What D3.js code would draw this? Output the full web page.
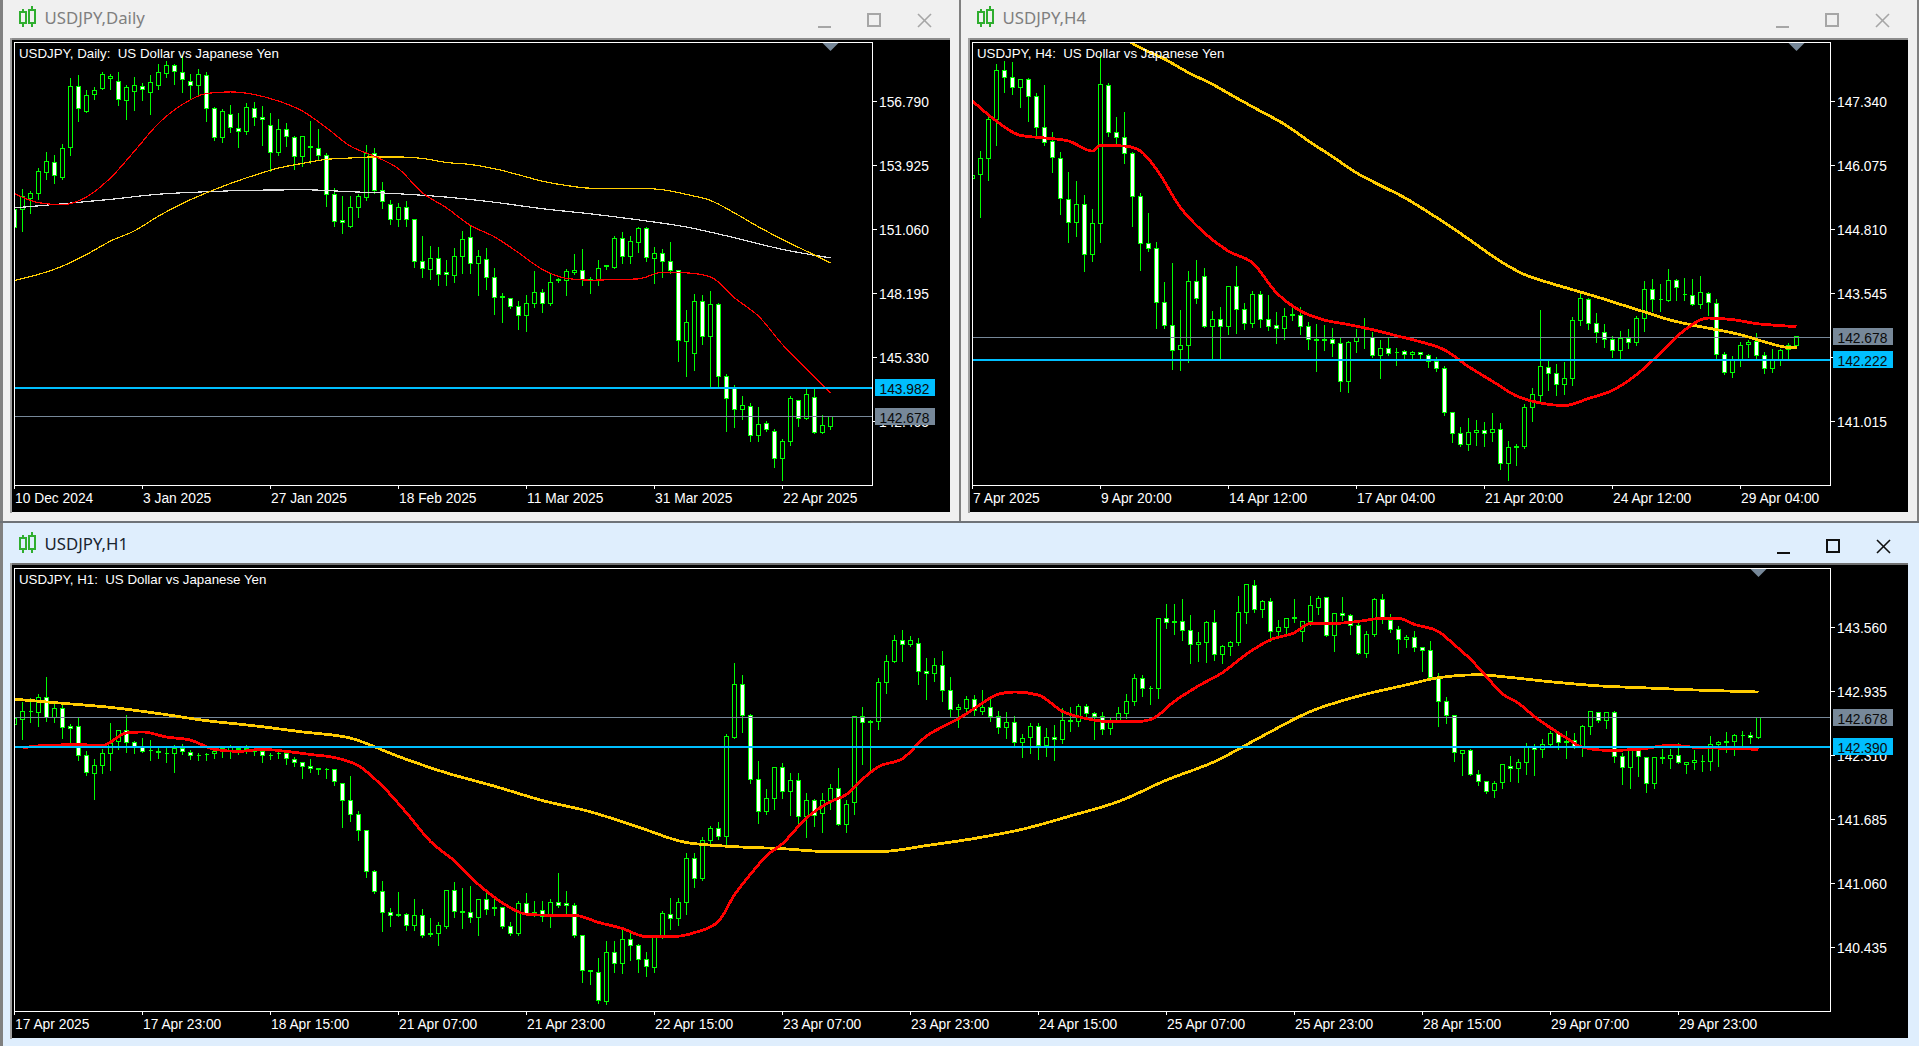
<!DOCTYPE html>
<html><head><meta charset="utf-8">
<script src="https://cdn.jsdelivr.net/npm/d3@7"></script>
<style>html,body{margin:0;padding:0;background:#f0f0f0;overflow:hidden}svg{display:block}text{white-space:pre}</style>
</head><body><svg id="c" width="1919" height="1046"></svg>
<script>
// candles: [open, high, low, close]
const dailyOHLC=[[151.96,152.08,151.06,151.17],[151.94,152.88,151.03,152.52],[152.43,152.79,151.84,152.66],[152.66,153.82,152.46,153.64],[153.63,154.54,153.36,154.12],[154.08,154.40,153.18,153.48],[153.37,154.90,153.36,154.67],[154.72,157.85,154.42,157.45],[157.45,158.00,155.94,156.46],[156.33,157.33,156.33,157.07],[157.12,157.45,156.91,157.30],[157.39,158.12,157.36,157.98],[157.81,158.04,157.37,157.89],[157.70,158.12,156.66,156.87],[156.85,157.57,156.05,157.40],[157.22,157.89,156.43,157.49],[157.45,157.63,156.88,157.31],[157.18,158.00,156.25,157.63],[157.52,158.48,157.39,158.07],[158.03,158.63,157.91,158.39],[158.39,158.48,157.60,158.12],[158.07,158.90,157.24,157.76],[157.70,158.04,156.92,157.49],[157.49,158.25,157.04,157.98],[157.94,158.13,155.96,156.46],[156.46,156.55,155.09,155.17],[155.17,156.46,155.00,156.33],[156.19,156.66,155.46,155.61],[155.57,156.30,154.78,155.46],[155.46,156.73,155.36,156.51],[156.46,156.78,155.76,156.06],[156.06,156.60,154.87,155.97],[155.70,156.30,153.69,154.52],[154.52,156.03,154.42,155.52],[155.52,155.85,154.82,155.21],[155.17,155.27,153.79,154.31],[154.31,155.27,153.94,155.21],[154.78,155.92,154.05,154.72],[154.67,155.58,154.20,154.36],[154.36,154.49,152.15,152.61],[152.61,152.93,151.26,151.41],[151.45,152.58,150.94,151.36],[151.21,152.57,151.21,152.03],[152.03,152.66,151.64,152.52],[152.49,154.85,152.40,154.45],[154.45,154.72,152.70,152.82],[152.82,153.20,152.05,152.30],[152.20,152.40,151.33,151.51],[151.49,152.25,151.26,152.06],[152.06,152.34,151.26,151.49],[151.49,151.51,149.42,149.64],[149.64,150.79,148.94,149.30],[149.27,150.34,148.85,149.75],[149.75,150.31,148.58,149.03],[149.12,149.72,148.61,149.06],[149.00,150.24,148.75,149.84],[149.84,151.02,149.12,150.61],[150.69,151.29,149.12,149.54],[149.54,150.17,148.15,149.84],[149.72,150.24,148.41,148.90],[148.90,149.35,147.30,148.00],[148.06,148.23,146.96,148.01],[147.96,148.00,147.55,147.60],[147.60,147.87,146.63,147.20],[147.20,148.15,146.55,147.73],[147.73,149.23,147.63,148.23],[148.23,148.41,147.41,147.73],[147.73,149.12,147.70,148.67],[148.80,148.90,148.73,148.79],[148.78,149.30,148.15,149.17],[149.15,149.99,149.09,149.24],[149.24,150.21,148.60,148.82],[148.82,148.94,148.23,148.79],[148.79,149.72,148.60,149.30],[149.42,149.51,149.33,149.43],[149.38,150.79,149.36,150.67],[150.67,150.96,149.57,149.87],[149.87,150.79,149.60,150.51],[150.49,151.21,150.09,151.09],[151.09,151.21,149.67,149.79],[149.75,150.28,148.70,149.97],[149.97,150.20,148.97,149.62],[149.62,150.51,149.12,149.24],[149.24,149.27,145.20,146.09],[146.06,147.48,144.54,146.88],[145.50,148.20,144.81,147.82],[147.82,148.15,145.96,146.26],[146.26,148.33,144.05,147.69],[147.69,147.78,144.05,144.47],[144.47,144.62,142.06,143.48],[143.93,144.11,142.26,142.99],[142.99,143.63,142.62,143.17],[143.12,143.30,141.62,141.83],[141.83,143.14,141.62,142.35],[142.39,142.51,142.05,142.09],[142.00,142.14,140.47,140.80],[140.80,141.69,139.87,141.56],[141.56,143.63,141.44,143.48],[143.42,143.42,142.30,142.59],[142.59,143.99,142.58,143.66],[143.53,143.93,141.96,141.99],[141.99,142.77,141.96,142.27],[142.23,142.74,142.17,142.70]];
const dailyRed=[[0,152.67],[3,152.26],[6,152.17],[9,152.52],[12,153.37],[15,154.57],[18,155.81],[21,156.66],[24,157.15],[27,157.22],[30,157.10],[33,156.81],[36,156.36],[39,155.61],[42,154.79],[45,154.34],[48,153.78],[51,152.70],[54,152.03],[57,151.24],[60,150.73],[63,150.02],[66,149.27],[69,148.87],[72,148.79],[75,148.82],[78,148.85],[81,149.15],[84,149.12],[87,148.94],[90,148.00],[93,147.18],[96,145.91],[99,144.80],[102,143.75]];
const dailyGold=[[0,148.78],[3,149.05],[6,149.42],[9,149.94],[12,150.54],[15,151.00],[18,151.66],[21,152.23],[24,152.70],[27,153.12],[30,153.49],[33,153.81],[36,154.02],[39,154.20],[42,154.26],[45,154.31],[48,154.31],[51,154.24],[54,154.06],[57,153.97],[60,153.78],[63,153.51],[66,153.22],[69,153.03],[72,152.91],[75,152.91],[78,152.91],[81,152.84],[84,152.63],[87,152.36],[90,151.80],[93,151.18],[96,150.61],[99,150.09],[102,149.56]];
const dailySilver=[[0,152.03],[6,152.21],[12,152.41],[18,152.64],[24,152.75],[30,152.82],[36,152.84],[42,152.75],[48,152.66],[54,152.51],[60,152.28],[66,151.99],[72,151.76],[78,151.49],[84,151.17],[90,150.69],[96,150.17],[102,149.79]];
const dailyXLabels=["10 Dec 2024","3 Jan 2025","27 Jan 2025","18 Feb 2025","11 Mar 2025","31 Mar 2025","22 Apr 2025"];
const dailyYTicks=[156.790,153.925,151.060,148.195,145.330,142.465];

const h4OHLC=[[145.81,145.88,145.80,145.88],[145.89,146.37,145.07,146.21],[146.21,147.05,145.80,146.98],[146.98,148.10,146.49,147.95],[147.95,148.15,147.53,147.81],[147.81,148.13,147.50,147.61],[147.61,147.78,147.25,147.77],[147.77,147.81,146.97,147.43],[147.43,147.51,146.64,146.82],[146.82,147.68,146.49,146.52],[146.54,146.75,145.96,146.23],[146.21,146.35,145.13,145.42],[145.40,145.95,144.58,144.94],[144.94,145.77,144.70,145.30],[145.30,145.50,143.99,144.31],[144.31,145.22,144.19,144.92],[144.92,148.27,144.58,147.67],[147.65,147.71,146.67,146.72],[146.72,147.04,146.49,146.62],[146.62,147.14,146.14,146.31],[146.31,146.35,144.88,145.46],[145.46,145.54,144.01,144.53],[144.53,145.14,144.40,144.43],[144.43,144.57,142.88,143.36],[143.36,143.78,142.88,142.92],[142.92,144.15,142.06,142.41],[142.43,143.23,142.04,142.52],[142.52,143.99,142.21,143.78],[143.78,144.21,143.37,143.44],[143.89,144.05,142.90,142.90],[142.90,143.20,142.26,143.04],[143.04,143.28,142.26,142.90],[142.90,143.70,142.76,143.68],[143.68,144.10,142.78,143.22],[143.22,143.36,142.86,142.96],[142.96,143.60,142.90,143.52],[143.52,143.60,142.90,143.04],[143.04,143.52,142.83,142.90],[142.91,143.18,142.58,142.86],[142.86,143.26,142.66,143.10],[143.11,143.28,143.04,143.13],[143.12,143.28,142.76,142.89],[142.89,143.00,142.46,142.63],[142.63,142.95,142.03,142.62],[142.62,142.93,142.43,142.64],[142.64,142.87,142.31,142.55],[142.55,142.68,141.63,141.80],[141.80,142.62,141.61,142.58],[142.59,142.86,142.39,142.67],[142.68,143.08,142.48,142.67],[142.68,142.80,142.29,142.31],[142.31,142.64,141.89,142.46],[142.46,142.70,142.34,142.36],[142.38,142.48,142.14,142.37],[142.39,142.44,142.28,142.34],[142.33,142.42,142.28,142.37],[142.37,142.40,142.26,142.34],[142.32,142.35,142.11,142.20],[142.20,142.29,142.02,142.07],[142.06,142.12,141.15,141.19],[141.19,141.20,140.61,140.77],[140.77,140.91,140.55,140.57],[140.57,141.09,140.46,140.79],[140.79,141.05,140.56,140.83],[140.83,141.01,140.54,140.77],[140.79,141.19,140.64,140.85],[140.85,140.99,140.09,140.19],[140.19,140.63,139.87,140.51],[140.51,140.58,140.16,140.53],[140.52,141.37,140.51,141.30],[141.30,141.68,141.04,141.54],[141.52,143.23,141.42,142.10],[142.08,142.22,141.65,141.96],[141.96,142.16,141.54,141.74],[141.74,142.20,141.57,141.86],[141.86,143.09,141.75,143.02],[143.02,143.54,142.93,143.44],[143.42,143.46,142.85,142.95],[142.95,143.16,142.60,142.77],[142.77,142.96,142.50,142.63],[142.63,142.71,142.29,142.41],[142.41,142.81,142.26,142.65],[142.65,142.85,142.48,142.57],[142.58,143.11,142.54,143.06],[143.06,143.80,142.82,143.62],[143.62,143.85,143.20,143.42],[143.43,143.74,143.21,143.42],[143.41,144.04,143.41,143.81],[143.81,143.85,143.43,143.66],[143.53,143.87,143.43,143.52],[143.50,143.85,143.32,143.32],[143.32,143.90,143.27,143.56],[143.54,143.58,143.13,143.36],[143.34,143.44,142.26,142.34],[142.33,142.39,141.96,141.98],[141.98,142.32,141.91,142.22],[142.24,142.59,142.12,142.52],[142.53,142.64,142.29,142.58],[142.60,142.77,142.27,142.31],[142.31,142.39,141.98,142.06],[142.06,142.45,142.01,142.24],[142.25,142.45,142.14,142.42],[142.44,142.57,142.25,142.52],[142.52,142.69,142.49,142.69]];
const h4Red=[[0,147.35],[3,146.95],[6,146.67],[9,146.62],[12,146.56],[15,146.36],[16,146.47],[19,146.46],[21,146.36],[23,146.00],[26,145.24],[29,144.74],[32,144.38],[35,144.15],[38,143.56],[41,143.20],[44,143.02],[47,142.93],[50,142.83],[53,142.71],[56,142.59],[59,142.43],[62,142.10],[65,141.81],[68,141.52],[71,141.38],[74,141.33],[77,141.47],[80,141.63],[83,141.94],[86,142.37],[89,142.82],[92,143.06],[95,143.03],[98,142.95],[101,142.91],[103,142.89]];
const h4Gold=[[19,148.58],[21,148.40],[24,148.18],[27,147.91],[30,147.68],[33,147.41],[36,147.15],[39,146.89],[42,146.56],[45,146.25],[48,145.93],[51,145.68],[54,145.44],[57,145.15],[60,144.84],[63,144.51],[66,144.18],[69,143.92],[72,143.76],[75,143.62],[78,143.48],[81,143.33],[84,143.18],[87,143.03],[90,142.92],[93,142.83],[96,142.73],[99,142.59],[102,142.48],[103,142.48]];
const h4XLabels=["7 Apr 2025","9 Apr 20:00","14 Apr 12:00","17 Apr 04:00","21 Apr 20:00","24 Apr 12:00","29 Apr 04:00"];
const h4YTicks=[147.340,146.075,144.810,143.545,142.280,141.015];

const h1OHLC=[[142.61,142.70,142.55,142.67],[142.66,142.84,142.48,142.74],[142.74,142.88,142.64,142.74],[142.73,142.92,142.60,142.88],[142.88,143.08,142.65,142.68],[142.68,142.82,142.64,142.77],[142.77,142.81,142.49,142.58],[142.59,142.62,142.44,142.57],[142.59,142.69,142.27,142.31],[142.31,142.36,142.12,142.14],[142.13,142.28,141.89,142.21],[142.21,142.38,142.14,142.33],[142.33,142.63,142.17,142.43],[142.45,142.56,142.38,142.55],[142.55,142.71,142.35,142.44],[142.44,142.46,142.34,142.40],[142.39,142.49,142.35,142.35],[142.36,142.47,142.27,142.36],[142.35,142.39,142.29,142.34],[142.33,142.40,142.25,142.33],[142.33,142.42,142.15,142.38],[142.38,142.43,142.33,142.35],[142.34,142.37,142.28,142.31],[142.31,142.34,142.27,142.31],[142.32,142.34,142.27,142.32],[142.33,142.38,142.29,142.35],[142.36,142.40,142.30,142.38],[142.35,142.42,142.29,142.39],[142.38,142.41,142.33,142.37],[142.38,142.42,142.34,142.37],[142.36,142.39,142.32,142.35],[142.35,142.37,142.25,142.31],[142.31,142.34,142.28,142.31],[142.33,142.37,142.29,142.33],[142.33,142.35,142.23,142.28],[142.27,142.30,142.21,142.24],[142.24,142.25,142.10,142.20],[142.20,142.28,142.15,142.18],[142.18,142.18,142.13,142.17],[142.17,142.19,142.10,142.17],[142.17,142.18,142.03,142.06],[142.04,142.05,141.62,141.87],[141.87,142.11,141.68,141.73],[141.73,141.77,141.49,141.58],[141.58,141.58,141.13,141.18],[141.18,141.20,140.97,140.98],[140.98,141.09,140.60,140.78],[140.78,140.83,140.65,140.75],[140.76,140.98,140.75,140.75],[140.76,140.78,140.61,140.65],[140.65,140.91,140.61,140.75],[140.75,140.82,140.54,140.55],[140.56,140.73,140.55,140.57],[140.57,140.69,140.46,140.65],[140.64,140.99,140.63,140.99],[140.99,141.08,140.74,140.79],[140.79,141.02,140.63,140.78],[140.78,141.04,140.69,140.73],[140.73,140.91,140.56,140.90],[140.90,140.98,140.77,140.81],[140.83,140.92,140.76,140.82],[140.83,140.84,140.63,140.64],[140.64,140.69,140.56,140.57],[140.57,140.89,140.56,140.86],[140.86,140.97,140.76,140.77],[140.78,140.89,140.75,140.77],[140.80,140.89,140.70,140.74],[140.74,140.91,140.64,140.87],[140.87,141.17,140.84,140.85],[140.86,140.99,140.77,140.85],[140.85,140.87,140.54,140.55],[140.55,140.55,140.10,140.21],[140.21,140.21,140.08,140.20],[140.19,140.34,139.90,139.92],[139.91,140.50,139.89,140.39],[140.39,140.50,140.20,140.28],[140.28,140.61,140.19,140.51],[140.51,140.58,140.32,140.45],[140.45,140.47,140.20,140.32],[140.32,140.40,140.16,140.25],[140.24,140.56,140.20,140.53],[140.54,140.80,140.53,140.77],[140.76,140.92,140.62,140.72],[140.72,140.92,140.66,140.87],[140.87,141.36,140.77,141.30],[141.30,141.36,141.03,141.11],[141.11,141.52,141.10,141.48],[141.48,141.63,141.43,141.60],[141.60,141.67,141.50,141.52],[141.52,142.52,141.43,142.50],[142.49,143.22,142.49,143.00],[143.00,143.10,142.54,142.70],[142.70,142.72,142.05,142.08],[142.08,142.26,141.66,141.76],[141.76,141.99,141.74,141.89],[141.89,142.19,141.79,142.19],[142.19,142.24,141.90,141.96],[141.96,142.14,141.73,142.07],[142.07,142.14,141.62,141.71],[141.71,141.95,141.52,141.87],[141.87,141.89,141.63,141.72],[141.74,141.95,141.57,141.87],[141.87,142.04,141.79,141.99],[141.99,142.19,141.64,141.64],[141.64,141.88,141.57,141.83],[141.85,142.69,141.74,142.69],[142.69,142.79,142.23,142.63],[142.63,142.66,142.17,142.64],[142.64,143.07,142.57,143.02],[143.02,143.30,142.93,143.23],[143.23,143.49,143.23,143.43],[143.43,143.54,143.24,143.39],[143.39,143.48,143.38,143.43],[143.40,143.46,143.01,143.13],[143.13,143.27,142.87,143.11],[143.11,143.27,143.04,143.19],[143.19,143.34,142.85,142.94],[142.94,143.08,142.69,142.76],[142.76,142.82,142.59,142.78],[142.77,142.90,142.73,142.86],[142.86,142.91,142.71,142.75],[142.74,142.95,142.72,142.78],[142.78,142.88,142.65,142.69],[142.69,142.75,142.53,142.58],[142.58,142.74,142.49,142.63],[142.63,142.70,142.42,142.44],[142.44,142.52,142.30,142.48],[142.49,142.63,142.34,142.59],[142.59,142.63,142.28,142.41],[142.41,142.58,142.31,142.49],[142.49,142.61,142.27,142.47],[142.47,142.78,142.44,142.65],[142.65,142.79,142.55,142.64],[142.64,142.82,142.60,142.79],[142.79,142.82,142.68,142.72],[142.72,142.74,142.48,142.69],[142.69,142.74,142.52,142.56],[142.57,142.68,142.52,142.64],[142.65,142.79,142.64,142.72],[142.72,142.92,142.68,142.84],[142.84,143.11,142.81,143.06],[143.06,143.10,142.90,142.96],[142.96,142.99,142.82,142.96],[142.96,143.66,142.88,143.65],[143.65,143.79,143.56,143.61],[143.62,143.79,143.50,143.61],[143.62,143.84,143.44,143.53],[143.53,143.69,143.22,143.39],[143.39,143.52,143.24,143.41],[143.41,143.63,143.23,143.61],[143.61,143.74,143.25,143.30],[143.30,143.39,143.22,143.37],[143.37,143.43,143.30,143.41],[143.41,143.87,143.39,143.71],[143.71,143.99,143.61,143.98],[143.97,144.03,143.72,143.74],[143.74,143.83,143.67,143.81],[143.81,143.85,143.43,143.52],[143.52,143.64,143.46,143.56],[143.56,143.66,143.50,143.65],[143.66,143.84,143.62,143.65],[143.52,143.62,143.43,143.62],[143.62,143.87,143.59,143.77],[143.76,143.87,143.70,143.84],[143.85,143.85,143.48,143.48],[143.48,143.71,143.34,143.70],[143.70,143.86,143.64,143.68],[143.68,143.70,143.50,143.58],[143.58,143.64,143.31,143.31],[143.31,143.53,143.28,143.49],[143.49,143.85,143.48,143.83],[143.83,143.89,143.61,143.65],[143.63,143.70,143.52,143.54],[143.54,143.58,143.32,143.44],[143.44,143.49,143.37,143.46],[143.46,143.53,143.34,143.36],[143.36,143.37,143.14,143.34],[143.34,143.43,143.06,143.07],[143.06,143.12,142.60,142.84],[142.84,142.89,142.63,142.70],[142.70,142.71,142.26,142.34],[142.33,142.37,142.12,142.36],[142.36,142.38,142.12,142.12],[142.12,142.17,142.03,142.06],[142.06,142.06,141.95,141.96],[141.97,142.07,141.91,142.04],[142.05,142.22,142.00,142.22],[142.20,142.31,142.07,142.18],[142.18,142.28,142.06,142.24],[142.24,142.44,142.13,142.40],[142.40,142.43,142.12,142.37],[142.37,142.48,142.30,142.42],[142.42,142.55,142.41,142.52],[142.52,142.55,142.38,142.44],[142.45,142.55,142.29,142.44],[142.46,142.53,142.39,142.39],[142.40,142.61,142.31,142.59],[142.59,142.75,142.52,142.74],[142.73,142.74,142.64,142.65],[142.65,142.74,142.58,142.73],[142.73,142.75,142.25,142.30],[142.30,142.34,142.04,142.19],[142.19,142.38,142.00,142.36],[142.36,142.38,142.11,142.30],[142.29,142.29,141.96,142.04],[142.04,142.30,142.00,142.29],[142.29,142.38,142.24,142.28],[142.28,142.38,142.19,142.31],[142.31,142.44,142.24,142.24],[142.22,142.25,142.14,142.24],[142.24,142.37,142.18,142.26],[142.25,142.32,142.16,142.25],[142.25,142.51,142.17,142.42],[142.42,142.46,142.21,142.44],[142.44,142.54,142.35,142.45],[142.45,142.52,142.32,142.51],[142.51,142.55,142.40,142.51],[142.51,142.54,142.44,142.49],[142.49,142.67,142.49,142.678]];
const h1Red=[[1,142.385],[4,142.41],[8,142.415],[11,142.41],[14,142.53],[16,142.54],[19,142.49],[22,142.46],[25,142.37],[28,142.35],[31,142.37],[34,142.35],[37,142.32],[40,142.29],[43,142.21],[46,142.01],[49,141.75],[52,141.47],[55,141.28],[58,141.05],[61,140.87],[64,140.76],[67,140.75],[70,140.75],[73,140.68],[76,140.62],[79,140.54],[82,140.54],[85,140.58],[88,140.69],[90,140.95],[92,141.15],[94,141.33],[96,141.45],[99,141.70],[102,141.86],[104,141.93],[106,142.08],[108,142.20],[111,142.28],[114,142.50],[116,142.59],[118,142.67],[120,142.77],[123,142.91],[125,142.93],[128,142.90],[131,142.74],[134,142.67],[137,142.64],[140,142.64],[142,142.66],[145,142.84],[148,142.99],[151,143.12],[154,143.30],[157,143.44],[160,143.51],[162,143.60],[165,143.60],[168,143.62],[171,143.65],[173,143.65],[175,143.59],[178,143.52],[180,143.39],[182,143.25],[184,143.08],[186,142.91],[188,142.82],[190,142.69],[192,142.58],[194,142.48],[196,142.39],[199,142.36],[203,142.37],[207,142.41],[210,142.39],[214,142.38],[218,142.37]];
const h1Gold=[[0,142.86],[6,142.82],[12,142.78],[18,142.72],[24,142.65],[30,142.60],[36,142.54],[42,142.48],[48,142.30],[54,142.14],[60,142.01],[66,141.87],[72,141.76],[78,141.61],[84,141.46],[90,141.42],[96,141.40],[102,141.37],[108,141.37],[114,141.43],[120,141.50],[126,141.59],[132,141.72],[138,141.86],[144,142.07],[150,142.25],[156,142.50],[162,142.74],[168,142.89],[174,143.00],[178,143.07],[183,143.10],[186,143.08],[192,143.03],[198,142.99],[204,142.97],[210,142.95],[218,142.93]];
const h1XLabels=["17 Apr 2025","17 Apr 23:00","18 Apr 15:00","21 Apr 07:00","21 Apr 23:00","22 Apr 15:00","23 Apr 07:00","23 Apr 23:00","24 Apr 15:00","25 Apr 07:00","25 Apr 23:00","28 Apr 15:00","29 Apr 07:00","29 Apr 23:00"];
const h1YTicks=[143.560,142.935,142.310,141.685,141.060,140.435];

const BID=142.678, dailyLevel=143.982, h4Level=142.222, h1Level=142.390;
const FONT='"Liberation Sans",Arial,sans-serif', GREEN="#00ff00", GOLD="#ffcc00";

const svg=d3.select("#c");
const snap=v=>Math.round(v-0.5)+0.5;
let clipId=0;

function rect(x,y,w,h,f){svg.append("rect").attr("x",x).attr("y",y).attr("width",w).attr("height",h).attr("fill",f).attr("shape-rendering","crispEdges");}

function windowFrame(o){
  const g=svg.append("g");
  const t=o.captionY;
  const ic=g.append("g").attr("transform",`translate(${o.iconX},${t})`).attr("fill","none").attr("stroke",o.iconColor).attr("stroke-width",2).attr("shape-rendering","crispEdges");
  ic.append("line").attr("x1",4).attr("x2",4).attr("y1",3).attr("y2",21);
  ic.append("rect").attr("x",1).attr("y",6).attr("width",6).attr("height",11).attr("fill",o.bg);
  ic.append("line").attr("x1",13).attr("x2",13).attr("y1",0).attr("y2",21);
  ic.append("rect").attr("x",10).attr("y",4).attr("width",6).attr("height",13).attr("fill",o.bg);
  g.append("text").attr("x",o.textX).attr("y",t+18).attr("font-family",'"Noto Sans",sans-serif').attr("font-size",16.8).attr("fill",o.textColor).text(o.caption);
  const c=g.append("g").attr("stroke",o.ctl).attr("fill","none").attr("stroke-width",1.6);
  const cy=t+8;
  c.append("line").attr("x1",o.ctlX).attr("x2",o.ctlX+13).attr("y1",cy+13).attr("y2",cy+13).attr("shape-rendering","crispEdges");
  c.append("rect").attr("x",o.ctlX+50).attr("y",cy).attr("width",12).attr("height",12).attr("shape-rendering","crispEdges");
  c.append("line").attr("x1",o.ctlX+100).attr("x2",o.ctlX+113).attr("y1",cy).attr("y2",cy+13);
  c.append("line").attr("x1",o.ctlX+113).attr("x2",o.ctlX+100).attr("y1",cy).attr("y2",cy+13);
}

function panel(o){
  const {left,right,top,bottom}=o, n=o.bars.length;
  const x=d3.scaleLinear().domain([0,n-1]).range([o.x0,o.x0+8*(n-1)]);
  const y=d3.scaleLinear().domain(o.yDomain).range(o.yRange);
  const id="clip"+(++clipId);
  svg.append("clipPath").attr("id",id).append("rect").attr("x",left).attr("y",top).attr("width",right-left).attr("height",bottom-top);
  const plot=svg.append("g").attr("clip-path",`url(#${id})`);
  const cg=plot.append("g");
  const cs=cg.selectAll("g").data(o.bars).join("g").attr("stroke",GREEN).attr("stroke-width",1).attr("shape-rendering","crispEdges");
  cs.append("line").attr("x1",(d,i)=>x(i)).attr("x2",(d,i)=>x(i)).attr("y1",d=>snap(y(d[1]))).attr("y2",d=>snap(y(d[2]))+1);
  cs.append("path").attr("d",(d,i)=>{const a=snap(y(Math.max(d[0],d[3]))),b=snap(y(Math.min(d[0],d[3])));const c=x(i);return `M${c-2},${a}H${c+2}V${b}H${c-2}Z`;})
    .attr("fill",d=>d[3]>=d[0]?"#000":"#fff");
  plot.append("line").attr("x1",left).attr("x2",right).attr("y1",snap(y(BID))).attr("y2",snap(y(BID))).attr("stroke","#778899").attr("shape-rendering","crispEdges");
  const line=d3.line().x(d=>x(d[0])).y(d=>y(d[1])).curve(d3.curveMonotoneX);
  o.mas.forEach(m=>plot.append("path").datum(m.data).attr("d",line).attr("fill","none").attr("stroke",m.color).attr("stroke-width",o.maWidth).attr("shape-rendering","crispEdges"));
  plot.append("line").attr("x1",left).attr("x2",right).attr("y1",y(o.level)).attr("y2",y(o.level)).attr("stroke","#00bfff").attr("stroke-width",2).attr("shape-rendering","crispEdges");

  svg.append("rect").attr("x",left-.5).attr("y",top-.5).attr("width",right-left+1).attr("height",bottom-top+1).attr("fill","none").attr("stroke","#fff").attr("shape-rendering","crispEdges");
  const ax=d3.axisBottom(x).tickValues(o.xLabels.map((_,i)=>i*16)).tickFormat((d,i)=>o.xLabels[i]).tickSize(4).tickSizeOuter(0).offset(0);
  const gx=svg.append("g").attr("transform",`translate(0,${bottom})`).call(ax);
  gx.select(".domain").remove();
  gx.selectAll("line").attr("stroke","#fff").attr("shape-rendering","crispEdges");
  gx.selectAll("text").attr("text-anchor","start").attr("dy",0).attr("x",0.5).attr("y",o.xLabelBase).attr("fill","#fff").attr("font-family",FONT).attr("font-size",o.fs);
  const ay=d3.axisRight(y).tickValues(o.yTicks).tickFormat(d3.format(".3f")).tickSize(4).tickPadding(2.5).offset(0);
  const gy=svg.append("g").attr("transform",`translate(${right+.5},0)`).call(ay);
  gy.select(".domain").remove();
  gy.selectAll("line").attr("stroke","#fff").attr("shape-rendering","crispEdges");
  gy.selectAll("text").attr("fill","#fff").attr("font-family",FONT).attr("font-size",o.fs).attr("dy","0.4em");
  [[BID,"#778899"],[o.level,"#00bfff"]].forEach(([v,c])=>{
    const yy=Math.round(y(v));
    rect(right+3,yy-9,60,17,c);
    svg.append("text").attr("x",right+7.5).attr("y",yy).attr("dy","0.4em").attr("fill","#0a0a0a").attr("font-family",FONT).attr("font-size",o.fs).text(d3.format(".3f")(v));
  });
  const lx=x(n-1);
  svg.append("path").attr("d",`M${lx-8},${top}H${lx+8}L${lx},${top+8}Z`).attr("fill","#778899");
  svg.append("text").attr("x",o.titleX).attr("y",top+15).attr("fill","#fff").attr("font-family",FONT).attr("font-size",o.tfs).text(o.title);
}

rect(0,0,1919,522,"#f0f0f0");
rect(0,0,3,522,"#808080");
rect(959,0,2,522,"#808080");
rect(1917,0,2,522,"#808080");
rect(0,521,1919,2,"#6f7378");
rect(0,523,1919,523,"#dfeefd");
rect(0,523,3,523,"#808080");
rect(10,38,940,2,"#8c8c8c");rect(10,38,2,475,"#a0a0a0");rect(12,40,938,472,"#000");
rect(968,38,940,2,"#8c8c8c");rect(968,38,2,475,"#a0a0a0");rect(970,40,938,472,"#000");
rect(10,563,1898,2,"#707070");rect(10,563,2,476,"#a0a0a0");rect(12,565,1896,473,"#000");

windowFrame({caption:"USDJPY,Daily",captionY:6,iconX:19,textX:44.5,textColor:"#7f7f7f",iconColor:"#2fae2f",bg:"#f0f0f0",ctl:"#a6a6a6",ctlX:818});
windowFrame({caption:"USDJPY,H4",captionY:6,iconX:977,textX:1002.5,textColor:"#7f7f7f",iconColor:"#2fae2f",bg:"#f0f0f0",ctl:"#a6a6a6",ctlX:1776});
windowFrame({caption:"USDJPY,H1",captionY:532,iconX:19,textX:44.5,textColor:"#1a2530",iconColor:"#2fae2f",bg:"#dfeefd",ctl:"#111",ctlX:1777});

panel({bars:dailyOHLC,x0:14.5,left:15,right:872,top:43,bottom:485,yDomain:[156.79,142.465],yRange:[101.5,421.5],yTicks:dailyYTicks,xLabels:dailyXLabels,level:dailyLevel,maWidth:1.2,fs:13.8,tfs:13.3,xLabelBase:18,titleX:19,title:"USDJPY, Daily:  US Dollar vs Japanese Yen",
  mas:[{data:dailySilver,color:"#e0e0e0"},{data:dailyGold,color:GOLD},{data:dailyRed,color:"#ff0000"}]});
panel({bars:h4OHLC,x0:972.5,left:973,right:1830,top:43,bottom:485,yDomain:[147.34,141.015],yRange:[101.5,421.5],yTicks:h4YTicks,xLabels:h4XLabels,level:h4Level,maWidth:2.8,fs:13.8,tfs:13.3,xLabelBase:18,titleX:977,title:"USDJPY, H4:  US Dollar vs Japanese Yen",
  mas:[{data:h4Gold,color:GOLD},{data:h4Red,color:"#ff0000"}]});
panel({bars:h1OHLC,x0:14.5,left:15,right:1830,top:569,bottom:1011,yDomain:[143.56,140.435],yRange:[627.5,947.5],yTicks:h1YTicks,xLabels:h1XLabels,level:h1Level,maWidth:2.8,fs:13.8,tfs:13.3,xLabelBase:18,titleX:19,title:"USDJPY, H1:  US Dollar vs Japanese Yen",
  mas:[{data:h1Gold,color:GOLD},{data:h1Red,color:"#ff0000"}]});
</script></body></html>
